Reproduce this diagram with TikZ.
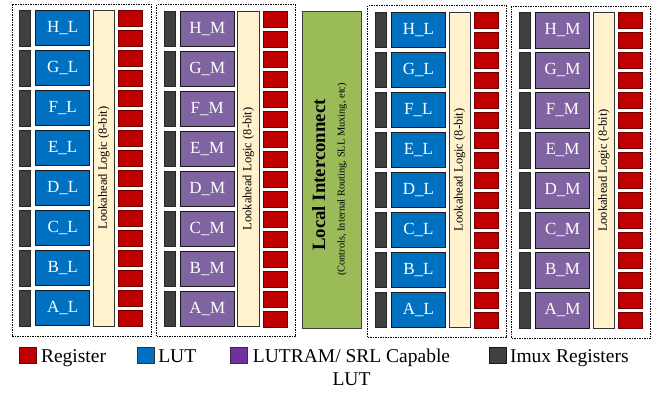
\documentclass[tikz,border=0pt]{standalone}
\usepackage{fontspec}
\setmainfont{Liberation Serif}
\definecolor{lutblue}{HTML}{0070C0}
\definecolor{lutpurple}{HTML}{8064A2}
\definecolor{regred}{HTML}{C00000}
\definecolor{regdark}{HTML}{6E0000}
\definecolor{imuxgray}{HTML}{404040}
\definecolor{lookfill}{HTML}{FFF2CC}
\definecolor{greenfill}{HTML}{9BBB59}
\definecolor{legpurple}{HTML}{7030A0}
\begin{document}
\begin{tikzpicture}[x=1pt,y=-1pt,
  every node/.style={inner sep=0pt,outer sep=0pt},
  dashbox/.style={draw=black,line width=0.9pt,dash pattern=on 1.5pt off 1pt,anchor=north west,minimum width=139,minimum height=332},
  imuxbox/.style={draw=black!85,line width=0.6pt,fill=imuxgray,anchor=north west,minimum width=11.4,minimum height=35.5},
  lutbox/.style={draw=black!90,line width=0.7pt,anchor=north west,minimum width=54,minimum height=35.5,text=white,font=\fontsize{17}{17}\selectfont},
  regbox/.style={draw=regdark,line width=0.6pt,fill=regred,anchor=north west,minimum width=24.4,minimum height=16},
  lookbox/.style={draw=black!80,line width=0.7pt,fill=lookfill,rotate=90,minimum width=315.7,minimum height=21.4,font=\fontsize{12.5}{12.5}\selectfont},
  legsq/.style={line width=0.7pt,anchor=north west,minimum width=17,minimum height=16},
  legtext/.style={anchor=base west,font=\fontsize{19.5}{23.7}\selectfont}
]
\useasboundingbox (0,0) rectangle (655,394);
\foreach \b/\dx/\dy/\t/\fc in {1/0/0/L/lutblue, 2/144.5/0.7/M/lutpurple, 3/355.7/1.7/L/lutblue, 4/499.8/2.4/M/lutpurple}{
  \node[dashbox] (blk\b) at ({12+\dx},{4+\dy}) {};
  \foreach \r [count=\i from 0] in {H,G,F,E,D,C,B,A}{
    \node[imuxbox] (imux\b\r) at ({19.3+\dx},{10.3+40*\i+\dy}) {};
    \node[lutbox,fill=\fc] (lut\b\r) at ({35.7+\dx},{10.3+40*\i+\dy}) {\r\_\t};
  }
  \foreach \k in {0,...,15}{
    \node[regbox] (reg\b-\k) at ({118.3+\dx},{10.3+20*\k+\dy}) {};
  }
  \node[lookbox] (look\b) at ({104+\dx},{168.15+\dy}) {Lookahead Logic (8-bit)};
}
\node[draw=black!75,line width=0.8pt,fill=greenfill,anchor=north west,minimum width=59,minimum height=316.3] (li) at (302.7,11.7) {};
\node[rotate=90,anchor=base,font=\fontsize{18.8}{20}\selectfont\bfseries] (lititle) at (325,175) {Local Interconnect};
\node[rotate=90,anchor=base,font=\fontsize{10.4}{12}\selectfont] (lisub) at (344.5,179.5) {(Controls, Internal Routing, SLL Muxing, etc)};
% legend
\node[legsq,fill=regred,draw=regdark] (sqreg) at (19,347.3) {};
\node[legtext] (txreg) at (41,362) {Register};
\node[legsq,fill=lutblue,draw=black!80] (sqlut) at (137.3,347.3) {};
\node[legtext] (txlut) at (158.3,362) {LUT};
\node[legsq,fill=legpurple,draw=black!80] (sqram) at (230,347.3) {};
\node[anchor=north,align=center,font=\fontsize{19.5}{23.7}\selectfont] (txram) at (351.5,348.5) {LUTRAM/ SRL Capable\\LUT};
\node[legsq,fill=imuxgray,draw=black!90] (sqimux) at (489.3,347.3) {};
\node[legtext] (tximux) at (510,362) {Imux Registers};
\end{tikzpicture}
\end{document}
